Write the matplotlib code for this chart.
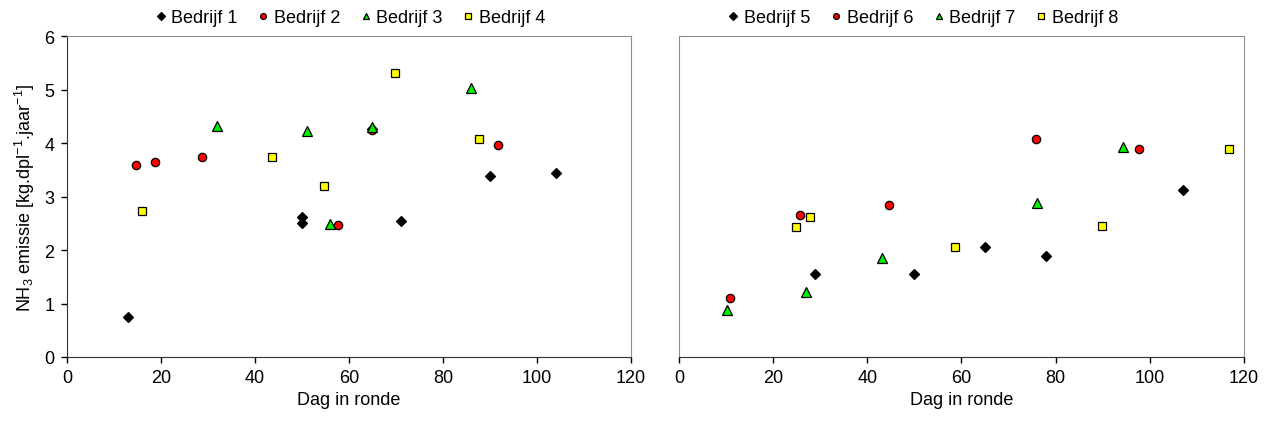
import numpy as np
import matplotlib
matplotlib.use('Agg')
import matplotlib.pyplot as plt

plt.rcParams['font.family'] = ['Liberation Sans', 'DejaVu Sans']
plt.rcParams['font.size'] = 13

# data links: bedrijf 1-4 (dag, emissie)
b1_dag = [13, 50, 50, 65, 71, 90, 104]
b1_nh3 = [0.75, 2.61, 2.50, 4.26, 2.54, 3.39, 3.44]
b2_dag = [14.7, 18.7, 28.8, 57.6, 64.8, 91.7]
b2_nh3 = [3.58, 3.65, 3.74, 2.47, 4.24, 3.97]
b3_dag = [32, 51, 56, 65, 86]
b3_nh3 = [4.32, 4.22, 2.49, 4.29, 5.03]
b4_dag = [15.9, 43.6, 54.7, 69.8, 87.7]
b4_nh3 = [2.72, 3.74, 3.19, 5.30, 4.07]

# data rechts: bedrijf 5-8
b5_dag = [29, 50, 65, 78, 107]
b5_nh3 = [1.55, 1.55, 2.06, 1.89, 3.12]
b6_dag = [10.9, 25.7, 44.7, 75.8, 97.7]
b6_nh3 = [1.11, 2.66, 2.85, 4.08, 3.89]
b7_dag = [10.2, 27, 43.2, 76.1, 94.2]
b7_nh3 = [0.87, 1.22, 1.85, 2.87, 3.93]
b8_dag = [24.9, 27.9, 58.7, 89.8, 116.7]
b8_nh3 = [2.43, 2.61, 2.06, 2.45, 3.89]

stijl = [('D', 'black', 5.2), ('o', 'red', 6.0), ('^', '#00ee00', 6.5), ('s', 'yellow', 5.8)]

fig = plt.figure(figsize=(12.76, 4.27), dpi=100)
ax1 = fig.add_axes([0.0525, 0.1616, 0.442, 0.7517])
ax2 = fig.add_axes([0.532, 0.1616, 0.443, 0.7517])

links = [(b1_dag, b1_nh3), (b2_dag, b2_nh3), (b3_dag, b3_nh3), (b4_dag, b4_nh3)]
rechts = [(b5_dag, b5_nh3), (b6_dag, b6_nh3), (b7_dag, b7_nh3), (b8_dag, b8_nh3)]

def teken(ax, reeksen, namen, legend_x):
    for (x, y), (m, c, ms), naam in zip(reeksen, stijl, namen):
        ax.plot(x, y, linestyle='none', marker=m, color=c, markersize=ms,
                markeredgecolor='black', markeredgewidth=0.9, label=naam)
    ax.set_xlim(0, 120)
    ax.set_ylim(0, 6)
    ax.set_xticks(np.arange(0, 121, 20))
    ax.set_xlabel('Dag in ronde', labelpad=3)
    for s in ['top', 'right']:
        ax.spines[s].set_color('#909090')
    ax.spines['bottom'].set_color('#303030')
    ax.tick_params(direction='out', length=4, width=1, pad=5)
    ax.legend(loc='center', bbox_to_anchor=(legend_x, 0.957), bbox_transform=fig.transFigure,
              ncol=4, frameon=False, markerscale=0.7, handletextpad=0.1,
              columnspacing=0.9, handlelength=1.0, fontsize=13)

teken(ax1, links, ['Bedrijf 1', 'Bedrijf 2', 'Bedrijf 3', 'Bedrijf 4'], 0.273)
teken(ax2, rechts, ['Bedrijf 5', 'Bedrijf 6', 'Bedrijf 7', 'Bedrijf 8'], 0.722)

ax1.spines['left'].set_color('#303030')
ax1.set_ylabel(r'NH$\mathregular{_3}$ emissie [kg.dpl$\mathregular{^{-1}}$.jaar$\mathregular{^{-1}}$]', labelpad=5)

ax2.spines['left'].set_color('#909090')
ax2.tick_params(axis='y', left=False, labelleft=False)

plt.savefig('out.png', dpi=100)
